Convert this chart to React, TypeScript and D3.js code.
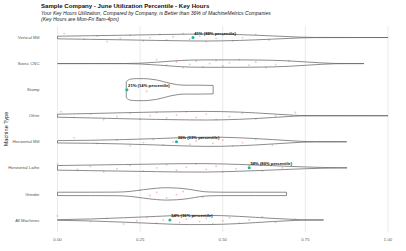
import React from "react";
import * as d3 from "d3";

const W = 406;
const H = 251;

const titleText = "Sample Company - June Utilization Percentile - Key Hours";
const subtitleLines = [
  "Your Key Hours Utilization, Compared by Company, is Better than 36% of MachineMetrics Companies",
  "(Key Hours are Mon-Fri 8am-4pm)",
];
const yAxisTitle = "Machine Type";

const categories = [
  "Vertical Mill",
  "Swiss CNC",
  "Stamp",
  "Other",
  "Horizontal Mill",
  "Horizontal Lathe",
  "Grinder",
  "All Machines",
];

const xTicks = [0, 0.25, 0.5, 0.75, 1.0];

// violin densities: [utilization, relative density]
const densityVerticalMill: [number, number][] = [
  [0, 1.3], [0.1, 1.8], [0.2, 2.3], [0.3, 2.9], [0.4, 3.4], [0.45, 3.5], [0.5, 3.3],
  [0.55, 2.9], [0.6, 2.3], [0.65, 1.6], [0.7, 0.9], [0.74, 0.3], [0.78, 0.08], [0.9, 0.04], [1.0, 0.03],
];
const densitySwissCNC: [number, number][] = [
  [0, 0.03], [0.1, 0.03], [0.2, 0.06], [0.25, 0.4], [0.3, 1.4], [0.35, 2.6], [0.4, 3.5],
  [0.45, 3.7], [0.5, 3.7], [0.55, 3.7], [0.6, 3.6], [0.65, 3.3], [0.7, 2.7], [0.75, 1.7],
  [0.8, 0.7], [0.84, 0.15], [0.88, 0.05], [0.927, 0.03],
];
const densityStamp: [number, number][] = [
  [0.208, 8], [0.22, 10.5], [0.24, 11], [0.26, 11], [0.28, 10.6], [0.3, 9.7], [0.32, 8.1],
  [0.34, 6.4], [0.36, 5.1], [0.38, 4.5], [0.4, 4.4], [0.42, 4.5], [0.44, 4.4], [0.471, 4.2],
];
const densityOther: [number, number][] = [
  [0, 1.5], [0.1, 2.2], [0.2, 3.0], [0.3, 3.7], [0.4, 4.2], [0.45, 4.3], [0.5, 4.1],
  [0.55, 3.6], [0.6, 2.8], [0.65, 1.8], [0.7, 0.8], [0.735, 0.2], [0.8, 0.05], [1.0, 0.03],
];
const densityHorizontalMill: [number, number][] = [
  [0, 1.2], [0.1, 1.5], [0.2, 2.2], [0.3, 3.2], [0.35, 3.8], [0.4, 4.3], [0.45, 4.6],
  [0.5, 4.5], [0.55, 4.0], [0.6, 3.2], [0.65, 2.2], [0.7, 1.2], [0.74, 0.4], [0.78, 0.1], [0.875, 0.03],
];
const densityHorizontalLathe: [number, number][] = [
  [0, 2.3], [0.1, 2.8], [0.2, 3.3], [0.3, 3.8], [0.4, 4.2], [0.45, 4.2], [0.5, 3.9],
  [0.55, 3.4], [0.6, 2.8], [0.65, 2.2], [0.7, 1.5], [0.75, 0.9], [0.8, 0.4], [0.85, 0.1], [0.876, 0.05],
];
const densityGrinder: [number, number][] = [
  [0, 1.7], [0.1, 1.7], [0.18, 1.8], [0.22, 2.5], [0.26, 4.2], [0.3, 5.7], [0.33, 6.2],
  [0.36, 5.9], [0.4, 4.5], [0.43, 2.8], [0.46, 1.9], [0.5, 1.7], [0.6, 1.7], [0.693, 1.7],
];
const densityAllMachines: [number, number][] = [
  [0, 0.3], [0.1, 1.0], [0.2, 2.2], [0.3, 3.6], [0.35, 4.3], [0.4, 4.6], [0.45, 4.6],
  [0.5, 4.3], [0.55, 3.6], [0.6, 2.6], [0.65, 1.6], [0.7, 0.8], [0.74, 0.2], [0.805, 0.05],
];

const densities = [
  densityVerticalMill,
  densitySwissCNC,
  densityStamp,
  densityOther,
  densityHorizontalMill,
  densityHorizontalLathe,
  densityGrinder,
  densityAllMachines,
];

// faint raw observations
const obsVerticalMill = [0.02, 0.08, 0.12, 0.15, 0.19, 0.22, 0.26, 0.28, 0.31, 0.33, 0.35, 0.38, 0.4, 0.43, 0.45, 0.48, 0.5, 0.53, 0.56, 0.6, 0.64];
const obsSwissCNC = [0.3, 0.33, 0.36, 0.38, 0.4, 0.42, 0.44, 0.46, 0.48, 0.5, 0.52, 0.55, 0.58, 0.6, 0.63, 0.66, 0.7];
const obsStamp = [0.24, 0.27];
const obsOther = [0.01, 0.05, 0.1, 0.14, 0.18, 0.22, 0.25, 0.28, 0.3, 0.33, 0.36, 0.39, 0.42, 0.45, 0.48, 0.52, 0.56, 0.6, 0.66, 0.72];
const obsHorizontalMill = [0.05, 0.12, 0.18, 0.22, 0.26, 0.29, 0.32, 0.35, 0.38, 0.4, 0.42, 0.44, 0.47, 0.5, 0.53, 0.56, 0.6, 0.65];
const obsHorizontalLathe = [0.0, 0.06, 0.1, 0.14, 0.18, 0.22, 0.26, 0.3, 0.33, 0.36, 0.39, 0.42, 0.45, 0.48, 0.5, 0.54, 0.58, 0.62, 0.68];
const obsGrinder = [0.25, 0.28, 0.3, 0.33, 0.36, 0.38, 0.44];
const obsAllMachines = [0.0, 0.1, 0.15, 0.2, 0.24, 0.27, 0.3, 0.32, 0.35, 0.37, 0.39, 0.41, 0.43, 0.45, 0.47, 0.5, 0.52, 0.55, 0.58, 0.62, 0.66, 0.72];

const observations = [
  obsVerticalMill,
  obsSwissCNC,
  obsStamp,
  obsOther,
  obsHorizontalMill,
  obsHorizontalLathe,
  obsGrinder,
  obsAllMachines,
];

const highlightCategories = ["Vertical Mill", "Stamp", "Horizontal Mill", "Horizontal Lathe", "All Machines"];
const highlightValues = [0.41, 0.21, 0.36, 0.58, 0.34];
const highlightLabels = [
  "41% (88% percentile)",
  "21% (14% percentile)",
  "36% (33% percentile)",
  "58% (86% percentile)",
  "34% (36% percentile)",
];

const FONT = "'Liberation Sans', Arial, Helvetica, sans-serif";

export default function App() {
  const x = d3.scaleLinear().domain([0, 1]).range([57.5, 388]);
  const y = d3.scalePoint<string>().domain(categories).range([24.5, 233]).padding(0.5);
  const w = d3.scaleLinear().domain([0, 12]).range([0, 12]);

  const panelTop = 26;
  const panelBottom = 232;

  return (
    <svg
      width={W}
      height={H}
      style={{ position: "absolute", left: 0, top: 0, background: "#fff" }}
      fontFamily={FONT}
    >
      <rect x={0} y={0} width={W} height={H} fill="#fff" />
      {/* title */}
      <text x={41} y={7.6} fontSize={6.1} fontWeight="bold" fill="#111">
        {titleText}
      </text>
      {subtitleLines.map((s, i) => (
        <text key={i} x={41} y={14.6 + i * 6.4} fontSize={5.1} fontStyle="italic" fill="#222">
          {s}
        </text>
      ))}

      {/* gridlines */}
      {xTicks.map((t) => (
        <line key={t} x1={x(t)} x2={x(t)} y1={panelTop} y2={panelBottom} stroke="#e4e4e4" strokeWidth={0.8} />
      ))}

      {/* y axis title */}
      <text
        transform={`translate(7.5, ${(panelTop + panelBottom) / 2}) rotate(-90)`}
        textAnchor="middle"
        fontSize={5.6}
        fill="#222"
      >
        {yAxisTitle}
      </text>

      {/* category labels */}
      {categories.map((c) => (
        <text key={c} x={39.5} y={(y(c) as number) + 1.6} textAnchor="end" fontSize={4.3} fill="#555">
          {c}
        </text>
      ))}

      {/* x tick labels */}
      {xTicks.map((t) => (
        <text key={t} x={x(t)} y={240.5} textAnchor="middle" fontSize={4.3} fill="#555">
          {d3.format(".2f")(t)}
        </text>
      ))}

      {/* observations */}
      {categories.map((c, ci) =>
        observations[ci].map((v, i) => (
          <circle
            key={c + i}
            cx={x(v)}
            cy={(y(c) as number) + (((i * 7) % 11) - 5) * 0.8}
            r={0.9}
            fill="#f28080"
            opacity={0.5}
          />
        ))
      )}

      {/* violins */}
      {categories.map((c, ci) => {
        const cy = y(c) as number;
        const area = d3
          .area<[number, number]>()
          .x((d) => x(d[0]))
          .y0((d) => cy - w(d[1]))
          .y1((d) => cy + w(d[1]))
          .curve(d3.curveMonotoneX);
        return (
          <path
            key={c}
            d={area(densities[ci]) || ""}
            fill="none"
            stroke="#666"
            strokeWidth={0.75}
          />
        );
      })}

      {/* highlighted company values */}
      {highlightCategories.map((c, i) => {
        const cy = y(c) as number;
        const cx = x(highlightValues[i]);
        return (
          <g key={c}>
            <circle cx={cx} cy={cy} r={1.5} fill="#1fb39e" />
            <text x={cx + 1.2} y={cy - 2.6} fontSize={4.2} fontWeight="bold" fill="#111">
              {highlightLabels[i]}
            </text>
          </g>
        );
      })}
    </svg>
  );
}
